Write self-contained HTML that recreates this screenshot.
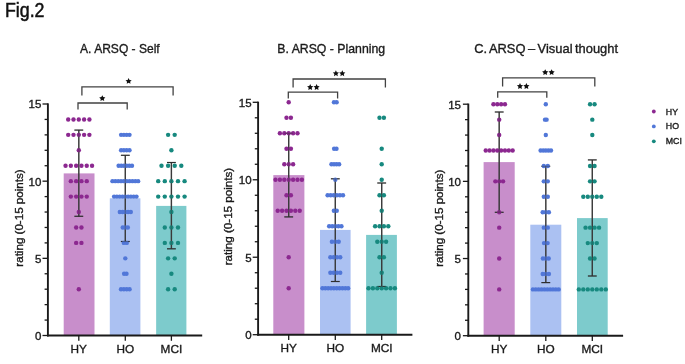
<!DOCTYPE html>
<html><head><meta charset="utf-8"><style>
html,body{margin:0;padding:0;background:#fff;}
body{width:685px;height:364px;overflow:hidden;}
svg{display:block;filter:blur(0.55px);font-family:"Liberation Sans", sans-serif;}
text{stroke:#1a1a1a;stroke-width:0.35px;paint-order:stroke;}
</style></head><body>
<svg width="685" height="364" viewBox="0 0 685 364">
<rect width="685" height="364" fill="#fff"/>
<text x="4.9" y="16.9" font-size="19.5" textLength="39.6" lengthAdjust="spacingAndGlyphs" fill="#111" style="stroke:#111;stroke-width:0.5px">Fig.2</text>
<g><text x="80.1" y="52.6" font-size="12.9" textLength="79.6" lengthAdjust="spacingAndGlyphs" fill="#1a1a1a" style="stroke-width:0.35px;">A. ARSQ - Self</text><rect x="63.7" y="173.4" width="30.8" height="162.1" fill="#c88ecb"/><rect x="109.8" y="198.3" width="30.6" height="137.2" fill="#abc1f2"/><rect x="156.15" y="205.9" width="30.25" height="129.6" fill="#7dcbcc"/><line x1="78.8" y1="130.1" x2="78.8" y2="216.3" stroke="#3a3a3a" stroke-width="1.35"/><line x1="74.4" y1="130.1" x2="83.2" y2="130.1" stroke="#2e2e2e" stroke-width="1.15"/><line x1="74.4" y1="216.3" x2="83.2" y2="216.3" stroke="#2e2e2e" stroke-width="1.15"/><line x1="125.3" y1="155.3" x2="125.3" y2="241.5" stroke="#3a3a3a" stroke-width="1.35"/><line x1="120.9" y1="155.3" x2="129.7" y2="155.3" stroke="#2e2e2e" stroke-width="1.15"/><line x1="120.9" y1="241.5" x2="129.7" y2="241.5" stroke="#2e2e2e" stroke-width="1.15"/><line x1="171.4" y1="162.5" x2="171.4" y2="248.8" stroke="#3a3a3a" stroke-width="1.35"/><line x1="167" y1="162.5" x2="175.8" y2="162.5" stroke="#2e2e2e" stroke-width="1.15"/><line x1="167" y1="248.8" x2="175.8" y2="248.8" stroke="#2e2e2e" stroke-width="1.15"/><circle cx="68.2" cy="119.43" r="2.2" fill="#8c2890"/><circle cx="73.5" cy="119.43" r="2.2" fill="#8c2890"/><circle cx="78.8" cy="119.43" r="2.2" fill="#8c2890"/><circle cx="84.1" cy="119.43" r="2.2" fill="#8c2890"/><circle cx="89.4" cy="119.43" r="2.2" fill="#8c2890"/><circle cx="68.2" cy="134.87" r="2.2" fill="#8c2890"/><circle cx="73.5" cy="134.87" r="2.2" fill="#8c2890"/><circle cx="78.8" cy="134.87" r="2.2" fill="#8c2890"/><circle cx="84.1" cy="134.87" r="2.2" fill="#8c2890"/><circle cx="89.4" cy="134.87" r="2.2" fill="#8c2890"/><circle cx="78.8" cy="150.3" r="2.2" fill="#8c2890"/><circle cx="65.55" cy="165.73" r="2.2" fill="#8c2890"/><circle cx="70.85" cy="165.73" r="2.2" fill="#8c2890"/><circle cx="76.15" cy="165.73" r="2.2" fill="#8c2890"/><circle cx="81.45" cy="165.73" r="2.2" fill="#8c2890"/><circle cx="86.75" cy="165.73" r="2.2" fill="#8c2890"/><circle cx="92.05" cy="165.73" r="2.2" fill="#8c2890"/><circle cx="70.85" cy="181.17" r="2.2" fill="#8c2890"/><circle cx="76.15" cy="181.17" r="2.2" fill="#8c2890"/><circle cx="81.45" cy="181.17" r="2.2" fill="#8c2890"/><circle cx="86.75" cy="181.17" r="2.2" fill="#8c2890"/><circle cx="70.85" cy="196.6" r="2.2" fill="#8c2890"/><circle cx="76.15" cy="196.6" r="2.2" fill="#8c2890"/><circle cx="81.45" cy="196.6" r="2.2" fill="#8c2890"/><circle cx="86.75" cy="196.6" r="2.2" fill="#8c2890"/><circle cx="78.8" cy="212.03" r="2.2" fill="#8c2890"/><circle cx="76.15" cy="227.47" r="2.2" fill="#8c2890"/><circle cx="81.45" cy="227.47" r="2.2" fill="#8c2890"/><circle cx="76.15" cy="242.9" r="2.2" fill="#8c2890"/><circle cx="81.45" cy="242.9" r="2.2" fill="#8c2890"/><circle cx="78.8" cy="289.2" r="2.2" fill="#8c2890"/><circle cx="121.1" cy="134.87" r="2.2" fill="#5177d8"/><circle cx="123.9" cy="134.87" r="2.2" fill="#5177d8"/><circle cx="126.7" cy="134.87" r="2.2" fill="#5177d8"/><circle cx="129.5" cy="134.87" r="2.2" fill="#5177d8"/><circle cx="121.1" cy="150.3" r="2.2" fill="#5177d8"/><circle cx="123.9" cy="150.3" r="2.2" fill="#5177d8"/><circle cx="126.7" cy="150.3" r="2.2" fill="#5177d8"/><circle cx="129.5" cy="150.3" r="2.2" fill="#5177d8"/><circle cx="118.6" cy="165.73" r="2.2" fill="#5177d8"/><circle cx="121.28" cy="165.73" r="2.2" fill="#5177d8"/><circle cx="123.96" cy="165.73" r="2.2" fill="#5177d8"/><circle cx="126.64" cy="165.73" r="2.2" fill="#5177d8"/><circle cx="129.32" cy="165.73" r="2.2" fill="#5177d8"/><circle cx="132" cy="165.73" r="2.2" fill="#5177d8"/><circle cx="112.45" cy="181.17" r="2.2" fill="#5177d8"/><circle cx="115.31" cy="181.17" r="2.2" fill="#5177d8"/><circle cx="118.16" cy="181.17" r="2.2" fill="#5177d8"/><circle cx="121.02" cy="181.17" r="2.2" fill="#5177d8"/><circle cx="123.87" cy="181.17" r="2.2" fill="#5177d8"/><circle cx="126.73" cy="181.17" r="2.2" fill="#5177d8"/><circle cx="129.58" cy="181.17" r="2.2" fill="#5177d8"/><circle cx="132.44" cy="181.17" r="2.2" fill="#5177d8"/><circle cx="135.29" cy="181.17" r="2.2" fill="#5177d8"/><circle cx="138.15" cy="181.17" r="2.2" fill="#5177d8"/><circle cx="114.1" cy="196.6" r="2.2" fill="#5177d8"/><circle cx="116.9" cy="196.6" r="2.2" fill="#5177d8"/><circle cx="119.7" cy="196.6" r="2.2" fill="#5177d8"/><circle cx="122.5" cy="196.6" r="2.2" fill="#5177d8"/><circle cx="125.3" cy="196.6" r="2.2" fill="#5177d8"/><circle cx="128.1" cy="196.6" r="2.2" fill="#5177d8"/><circle cx="130.9" cy="196.6" r="2.2" fill="#5177d8"/><circle cx="133.7" cy="196.6" r="2.2" fill="#5177d8"/><circle cx="136.5" cy="196.6" r="2.2" fill="#5177d8"/><circle cx="119.8" cy="212.03" r="2.2" fill="#5177d8"/><circle cx="122.55" cy="212.03" r="2.2" fill="#5177d8"/><circle cx="125.3" cy="212.03" r="2.2" fill="#5177d8"/><circle cx="128.05" cy="212.03" r="2.2" fill="#5177d8"/><circle cx="130.8" cy="212.03" r="2.2" fill="#5177d8"/><circle cx="122.75" cy="227.47" r="2.2" fill="#5177d8"/><circle cx="125.3" cy="227.47" r="2.2" fill="#5177d8"/><circle cx="127.85" cy="227.47" r="2.2" fill="#5177d8"/><circle cx="123.85" cy="242.9" r="2.2" fill="#5177d8"/><circle cx="126.75" cy="242.9" r="2.2" fill="#5177d8"/><circle cx="125.3" cy="258.33" r="2.2" fill="#5177d8"/><circle cx="124.1" cy="273.77" r="2.2" fill="#5177d8"/><circle cx="126.5" cy="273.77" r="2.2" fill="#5177d8"/><circle cx="121" cy="289.2" r="2.2" fill="#5177d8"/><circle cx="123.87" cy="289.2" r="2.2" fill="#5177d8"/><circle cx="126.73" cy="289.2" r="2.2" fill="#5177d8"/><circle cx="129.6" cy="289.2" r="2.2" fill="#5177d8"/><circle cx="168.1" cy="134.87" r="2.2" fill="#17897f"/><circle cx="174.7" cy="134.87" r="2.2" fill="#17897f"/><circle cx="171.4" cy="150.3" r="2.2" fill="#17897f"/><circle cx="161.5" cy="165.73" r="2.2" fill="#17897f"/><circle cx="168.1" cy="165.73" r="2.2" fill="#17897f"/><circle cx="174.7" cy="165.73" r="2.2" fill="#17897f"/><circle cx="181.3" cy="165.73" r="2.2" fill="#17897f"/><circle cx="158.2" cy="181.17" r="2.2" fill="#17897f"/><circle cx="164.8" cy="181.17" r="2.2" fill="#17897f"/><circle cx="171.4" cy="181.17" r="2.2" fill="#17897f"/><circle cx="178" cy="181.17" r="2.2" fill="#17897f"/><circle cx="184.6" cy="181.17" r="2.2" fill="#17897f"/><circle cx="158.2" cy="196.6" r="2.2" fill="#17897f"/><circle cx="164.8" cy="196.6" r="2.2" fill="#17897f"/><circle cx="171.4" cy="196.6" r="2.2" fill="#17897f"/><circle cx="178" cy="196.6" r="2.2" fill="#17897f"/><circle cx="184.6" cy="196.6" r="2.2" fill="#17897f"/><circle cx="171.4" cy="212.03" r="2.2" fill="#17897f"/><circle cx="164.8" cy="227.47" r="2.2" fill="#17897f"/><circle cx="171.4" cy="227.47" r="2.2" fill="#17897f"/><circle cx="178" cy="227.47" r="2.2" fill="#17897f"/><circle cx="164.8" cy="242.9" r="2.2" fill="#17897f"/><circle cx="171.4" cy="242.9" r="2.2" fill="#17897f"/><circle cx="178" cy="242.9" r="2.2" fill="#17897f"/><circle cx="168.1" cy="258.33" r="2.2" fill="#17897f"/><circle cx="174.7" cy="258.33" r="2.2" fill="#17897f"/><circle cx="171.4" cy="273.77" r="2.2" fill="#17897f"/><circle cx="168.1" cy="289.2" r="2.2" fill="#17897f"/><circle cx="174.7" cy="289.2" r="2.2" fill="#17897f"/><line x1="78.8" y1="130.1" x2="78.8" y2="216.3" stroke="#3a3a3a" stroke-width="1.35" opacity="0.35"/><line x1="74.4" y1="130.1" x2="83.2" y2="130.1" stroke="#2e2e2e" stroke-width="1.15" opacity="0.35"/><line x1="74.4" y1="216.3" x2="83.2" y2="216.3" stroke="#2e2e2e" stroke-width="1.15" opacity="0.35"/><line x1="125.3" y1="155.3" x2="125.3" y2="241.5" stroke="#3a3a3a" stroke-width="1.35" opacity="0.35"/><line x1="120.9" y1="155.3" x2="129.7" y2="155.3" stroke="#2e2e2e" stroke-width="1.15" opacity="0.35"/><line x1="120.9" y1="241.5" x2="129.7" y2="241.5" stroke="#2e2e2e" stroke-width="1.15" opacity="0.35"/><line x1="171.4" y1="162.5" x2="171.4" y2="248.8" stroke="#3a3a3a" stroke-width="1.35" opacity="0.35"/><line x1="167" y1="162.5" x2="175.8" y2="162.5" stroke="#2e2e2e" stroke-width="1.15" opacity="0.35"/><line x1="167" y1="248.8" x2="175.8" y2="248.8" stroke="#2e2e2e" stroke-width="1.15" opacity="0.35"/><line x1="47.9" y1="103.35" x2="47.9" y2="336.45" stroke="#1a1a1a" stroke-width="1.9"/><line x1="46.95" y1="335.5" x2="202.2" y2="335.5" stroke="#1a1a1a" stroke-width="1.9"/><line x1="42.5" y1="335.5" x2="47.9" y2="335.5" stroke="#1a1a1a" stroke-width="1.3"/><text x="41.4" y="339.9" font-size="11.5" text-anchor="end" fill="#1a1a1a">0</text><line x1="44.6" y1="320.07" x2="47.9" y2="320.07" stroke="#1a1a1a" stroke-width="1.3"/><line x1="44.6" y1="304.63" x2="47.9" y2="304.63" stroke="#1a1a1a" stroke-width="1.3"/><line x1="44.6" y1="289.2" x2="47.9" y2="289.2" stroke="#1a1a1a" stroke-width="1.3"/><line x1="44.6" y1="273.77" x2="47.9" y2="273.77" stroke="#1a1a1a" stroke-width="1.3"/><line x1="42.5" y1="258.33" x2="47.9" y2="258.33" stroke="#1a1a1a" stroke-width="1.3"/><text x="41.4" y="262.73" font-size="11.5" text-anchor="end" fill="#1a1a1a">5</text><line x1="44.6" y1="242.9" x2="47.9" y2="242.9" stroke="#1a1a1a" stroke-width="1.3"/><line x1="44.6" y1="227.47" x2="47.9" y2="227.47" stroke="#1a1a1a" stroke-width="1.3"/><line x1="44.6" y1="212.03" x2="47.9" y2="212.03" stroke="#1a1a1a" stroke-width="1.3"/><line x1="44.6" y1="196.6" x2="47.9" y2="196.6" stroke="#1a1a1a" stroke-width="1.3"/><line x1="42.5" y1="181.17" x2="47.9" y2="181.17" stroke="#1a1a1a" stroke-width="1.3"/><text x="41.4" y="185.57" font-size="11.5" text-anchor="end" fill="#1a1a1a">10</text><line x1="44.6" y1="165.73" x2="47.9" y2="165.73" stroke="#1a1a1a" stroke-width="1.3"/><line x1="44.6" y1="150.3" x2="47.9" y2="150.3" stroke="#1a1a1a" stroke-width="1.3"/><line x1="44.6" y1="134.87" x2="47.9" y2="134.87" stroke="#1a1a1a" stroke-width="1.3"/><line x1="44.6" y1="119.43" x2="47.9" y2="119.43" stroke="#1a1a1a" stroke-width="1.3"/><line x1="42.5" y1="104" x2="47.9" y2="104" stroke="#1a1a1a" stroke-width="1.3"/><text x="41.4" y="108.4" font-size="11.5" text-anchor="end" fill="#1a1a1a">15</text><line x1="78.8" y1="335.5" x2="78.8" y2="340.8" stroke="#1a1a1a" stroke-width="1.3"/><text x="78.8" y="353" font-size="11.8" text-anchor="middle" fill="#1a1a1a">HY</text><line x1="125.3" y1="335.5" x2="125.3" y2="340.8" stroke="#1a1a1a" stroke-width="1.3"/><text x="125.3" y="353" font-size="11.8" text-anchor="middle" fill="#1a1a1a">HO</text><line x1="171.4" y1="335.5" x2="171.4" y2="340.8" stroke="#1a1a1a" stroke-width="1.3"/><text x="171.4" y="353" font-size="11.8" text-anchor="middle" fill="#1a1a1a">MCI</text><text transform="translate(22.8,218) rotate(-90)" x="0" y="0" font-size="11.6" text-anchor="middle" fill="#1a1a1a">rating (0-15 points)</text><path d="M81.9 95.6V86.8H173.1V95.6" fill="none" stroke="#424242" stroke-width="1.3"/><polygon points="128.60,77.95 129.54,79.91 131.69,80.20 130.12,81.69 130.51,83.83 128.60,82.80 126.69,83.83 127.08,81.69 125.51,80.20 127.66,79.91" fill="#111"/><path d="M78 109.4V103H127.2V109.4" fill="none" stroke="#424242" stroke-width="1.3"/><polygon points="102.30,95.15 103.24,97.11 105.39,97.40 103.82,98.89 104.21,101.03 102.30,100.00 100.39,101.03 100.78,98.89 99.21,97.40 101.36,97.11" fill="#111"/></g>
<g><text x="277.3" y="53" font-size="12.9" textLength="107.8" lengthAdjust="spacingAndGlyphs" fill="#1a1a1a" style="stroke-width:0.35px;">B. ARSQ - Planning</text><rect x="273.3" y="175.1" width="31.1" height="159.6" fill="#c88ecb"/><rect x="320" y="229.9" width="30.6" height="104.8" fill="#abc1f2"/><rect x="366.1" y="234.9" width="30.8" height="99.8" fill="#7dcbcc"/><line x1="288.7" y1="133.3" x2="288.7" y2="216.9" stroke="#3a3a3a" stroke-width="1.35"/><line x1="284.3" y1="133.3" x2="293.1" y2="133.3" stroke="#2e2e2e" stroke-width="1.15"/><line x1="284.3" y1="216.9" x2="293.1" y2="216.9" stroke="#2e2e2e" stroke-width="1.15"/><line x1="335.3" y1="178.8" x2="335.3" y2="281.5" stroke="#3a3a3a" stroke-width="1.35"/><line x1="330.9" y1="178.8" x2="339.7" y2="178.8" stroke="#2e2e2e" stroke-width="1.15"/><line x1="330.9" y1="281.5" x2="339.7" y2="281.5" stroke="#2e2e2e" stroke-width="1.15"/><line x1="381.7" y1="183" x2="381.7" y2="286.5" stroke="#3a3a3a" stroke-width="1.35"/><line x1="377.3" y1="183" x2="386.1" y2="183" stroke="#2e2e2e" stroke-width="1.15"/><line x1="377.3" y1="286.5" x2="386.1" y2="286.5" stroke="#2e2e2e" stroke-width="1.15"/><circle cx="288.7" cy="102.3" r="2.2" fill="#8c2890"/><circle cx="286.5" cy="117.79" r="2.2" fill="#8c2890"/><circle cx="290.9" cy="117.79" r="2.2" fill="#8c2890"/><circle cx="279.9" cy="133.29" r="2.2" fill="#8c2890"/><circle cx="284.3" cy="133.29" r="2.2" fill="#8c2890"/><circle cx="288.7" cy="133.29" r="2.2" fill="#8c2890"/><circle cx="293.1" cy="133.29" r="2.2" fill="#8c2890"/><circle cx="297.5" cy="133.29" r="2.2" fill="#8c2890"/><circle cx="286.5" cy="148.78" r="2.2" fill="#8c2890"/><circle cx="290.9" cy="148.78" r="2.2" fill="#8c2890"/><circle cx="284.3" cy="164.27" r="2.2" fill="#8c2890"/><circle cx="288.7" cy="164.27" r="2.2" fill="#8c2890"/><circle cx="293.1" cy="164.27" r="2.2" fill="#8c2890"/><circle cx="275.5" cy="179.77" r="2.2" fill="#8c2890"/><circle cx="279.9" cy="179.77" r="2.2" fill="#8c2890"/><circle cx="284.3" cy="179.77" r="2.2" fill="#8c2890"/><circle cx="288.7" cy="179.77" r="2.2" fill="#8c2890"/><circle cx="293.1" cy="179.77" r="2.2" fill="#8c2890"/><circle cx="297.5" cy="179.77" r="2.2" fill="#8c2890"/><circle cx="301.9" cy="179.77" r="2.2" fill="#8c2890"/><circle cx="286.5" cy="195.26" r="2.2" fill="#8c2890"/><circle cx="290.9" cy="195.26" r="2.2" fill="#8c2890"/><circle cx="277.7" cy="210.75" r="2.2" fill="#8c2890"/><circle cx="282.1" cy="210.75" r="2.2" fill="#8c2890"/><circle cx="286.5" cy="210.75" r="2.2" fill="#8c2890"/><circle cx="290.9" cy="210.75" r="2.2" fill="#8c2890"/><circle cx="295.3" cy="210.75" r="2.2" fill="#8c2890"/><circle cx="299.7" cy="210.75" r="2.2" fill="#8c2890"/><circle cx="288.7" cy="257.23" r="2.2" fill="#8c2890"/><circle cx="288.7" cy="288.22" r="2.2" fill="#8c2890"/><circle cx="333.95" cy="102.3" r="2.2" fill="#5177d8"/><circle cx="336.65" cy="102.3" r="2.2" fill="#5177d8"/><circle cx="334.1" cy="148.78" r="2.2" fill="#5177d8"/><circle cx="336.5" cy="148.78" r="2.2" fill="#5177d8"/><circle cx="331.45" cy="164.27" r="2.2" fill="#5177d8"/><circle cx="334.02" cy="164.27" r="2.2" fill="#5177d8"/><circle cx="336.58" cy="164.27" r="2.2" fill="#5177d8"/><circle cx="339.15" cy="164.27" r="2.2" fill="#5177d8"/><circle cx="335.3" cy="179.77" r="2.2" fill="#5177d8"/><circle cx="327.6" cy="195.26" r="2.2" fill="#5177d8"/><circle cx="330.68" cy="195.26" r="2.2" fill="#5177d8"/><circle cx="333.76" cy="195.26" r="2.2" fill="#5177d8"/><circle cx="336.84" cy="195.26" r="2.2" fill="#5177d8"/><circle cx="339.92" cy="195.26" r="2.2" fill="#5177d8"/><circle cx="343" cy="195.26" r="2.2" fill="#5177d8"/><circle cx="333.85" cy="210.75" r="2.2" fill="#5177d8"/><circle cx="336.75" cy="210.75" r="2.2" fill="#5177d8"/><circle cx="329.15" cy="226.25" r="2.2" fill="#5177d8"/><circle cx="332.23" cy="226.25" r="2.2" fill="#5177d8"/><circle cx="335.3" cy="226.25" r="2.2" fill="#5177d8"/><circle cx="338.38" cy="226.25" r="2.2" fill="#5177d8"/><circle cx="341.45" cy="226.25" r="2.2" fill="#5177d8"/><circle cx="331.9" cy="241.74" r="2.2" fill="#5177d8"/><circle cx="335.3" cy="241.74" r="2.2" fill="#5177d8"/><circle cx="338.7" cy="241.74" r="2.2" fill="#5177d8"/><circle cx="330.35" cy="257.23" r="2.2" fill="#5177d8"/><circle cx="333.65" cy="257.23" r="2.2" fill="#5177d8"/><circle cx="336.95" cy="257.23" r="2.2" fill="#5177d8"/><circle cx="340.25" cy="257.23" r="2.2" fill="#5177d8"/><circle cx="330.35" cy="272.73" r="2.2" fill="#5177d8"/><circle cx="333.65" cy="272.73" r="2.2" fill="#5177d8"/><circle cx="336.95" cy="272.73" r="2.2" fill="#5177d8"/><circle cx="340.25" cy="272.73" r="2.2" fill="#5177d8"/><circle cx="322.45" cy="288.22" r="2.2" fill="#5177d8"/><circle cx="325.31" cy="288.22" r="2.2" fill="#5177d8"/><circle cx="328.16" cy="288.22" r="2.2" fill="#5177d8"/><circle cx="331.02" cy="288.22" r="2.2" fill="#5177d8"/><circle cx="333.87" cy="288.22" r="2.2" fill="#5177d8"/><circle cx="336.73" cy="288.22" r="2.2" fill="#5177d8"/><circle cx="339.58" cy="288.22" r="2.2" fill="#5177d8"/><circle cx="342.44" cy="288.22" r="2.2" fill="#5177d8"/><circle cx="345.29" cy="288.22" r="2.2" fill="#5177d8"/><circle cx="348.15" cy="288.22" r="2.2" fill="#5177d8"/><circle cx="379.5" cy="117.79" r="2.2" fill="#17897f"/><circle cx="383.9" cy="117.79" r="2.2" fill="#17897f"/><circle cx="381.7" cy="148.78" r="2.2" fill="#17897f"/><circle cx="381.7" cy="164.27" r="2.2" fill="#17897f"/><circle cx="381.7" cy="179.77" r="2.2" fill="#17897f"/><circle cx="379.5" cy="195.26" r="2.2" fill="#17897f"/><circle cx="383.9" cy="195.26" r="2.2" fill="#17897f"/><circle cx="381.7" cy="210.75" r="2.2" fill="#17897f"/><circle cx="375.1" cy="226.25" r="2.2" fill="#17897f"/><circle cx="379.5" cy="226.25" r="2.2" fill="#17897f"/><circle cx="383.9" cy="226.25" r="2.2" fill="#17897f"/><circle cx="388.3" cy="226.25" r="2.2" fill="#17897f"/><circle cx="377.3" cy="241.74" r="2.2" fill="#17897f"/><circle cx="381.7" cy="241.74" r="2.2" fill="#17897f"/><circle cx="386.1" cy="241.74" r="2.2" fill="#17897f"/><circle cx="379.5" cy="257.23" r="2.2" fill="#17897f"/><circle cx="383.9" cy="257.23" r="2.2" fill="#17897f"/><circle cx="381.7" cy="272.73" r="2.2" fill="#17897f"/><circle cx="368.5" cy="288.22" r="2.2" fill="#17897f"/><circle cx="372.9" cy="288.22" r="2.2" fill="#17897f"/><circle cx="377.3" cy="288.22" r="2.2" fill="#17897f"/><circle cx="381.7" cy="288.22" r="2.2" fill="#17897f"/><circle cx="386.1" cy="288.22" r="2.2" fill="#17897f"/><circle cx="390.5" cy="288.22" r="2.2" fill="#17897f"/><circle cx="394.9" cy="288.22" r="2.2" fill="#17897f"/><line x1="288.7" y1="133.3" x2="288.7" y2="216.9" stroke="#3a3a3a" stroke-width="1.35" opacity="0.35"/><line x1="284.3" y1="133.3" x2="293.1" y2="133.3" stroke="#2e2e2e" stroke-width="1.15" opacity="0.35"/><line x1="284.3" y1="216.9" x2="293.1" y2="216.9" stroke="#2e2e2e" stroke-width="1.15" opacity="0.35"/><line x1="335.3" y1="178.8" x2="335.3" y2="281.5" stroke="#3a3a3a" stroke-width="1.35" opacity="0.35"/><line x1="330.9" y1="178.8" x2="339.7" y2="178.8" stroke="#2e2e2e" stroke-width="1.15" opacity="0.35"/><line x1="330.9" y1="281.5" x2="339.7" y2="281.5" stroke="#2e2e2e" stroke-width="1.15" opacity="0.35"/><line x1="381.7" y1="183" x2="381.7" y2="286.5" stroke="#3a3a3a" stroke-width="1.35" opacity="0.35"/><line x1="377.3" y1="183" x2="386.1" y2="183" stroke="#2e2e2e" stroke-width="1.15" opacity="0.35"/><line x1="377.3" y1="286.5" x2="386.1" y2="286.5" stroke="#2e2e2e" stroke-width="1.15" opacity="0.35"/><line x1="258.1" y1="101.65" x2="258.1" y2="335.65" stroke="#1a1a1a" stroke-width="1.9"/><line x1="257.15" y1="334.7" x2="412.4" y2="334.7" stroke="#1a1a1a" stroke-width="1.9"/><line x1="252.7" y1="334.7" x2="258.1" y2="334.7" stroke="#1a1a1a" stroke-width="1.3"/><text x="251.6" y="339.1" font-size="11.5" text-anchor="end" fill="#1a1a1a">0</text><line x1="254.8" y1="319.21" x2="258.1" y2="319.21" stroke="#1a1a1a" stroke-width="1.3"/><line x1="254.8" y1="303.71" x2="258.1" y2="303.71" stroke="#1a1a1a" stroke-width="1.3"/><line x1="254.8" y1="288.22" x2="258.1" y2="288.22" stroke="#1a1a1a" stroke-width="1.3"/><line x1="254.8" y1="272.73" x2="258.1" y2="272.73" stroke="#1a1a1a" stroke-width="1.3"/><line x1="252.7" y1="257.23" x2="258.1" y2="257.23" stroke="#1a1a1a" stroke-width="1.3"/><text x="251.6" y="261.63" font-size="11.5" text-anchor="end" fill="#1a1a1a">5</text><line x1="254.8" y1="241.74" x2="258.1" y2="241.74" stroke="#1a1a1a" stroke-width="1.3"/><line x1="254.8" y1="226.25" x2="258.1" y2="226.25" stroke="#1a1a1a" stroke-width="1.3"/><line x1="254.8" y1="210.75" x2="258.1" y2="210.75" stroke="#1a1a1a" stroke-width="1.3"/><line x1="254.8" y1="195.26" x2="258.1" y2="195.26" stroke="#1a1a1a" stroke-width="1.3"/><line x1="252.7" y1="179.77" x2="258.1" y2="179.77" stroke="#1a1a1a" stroke-width="1.3"/><text x="251.6" y="184.17" font-size="11.5" text-anchor="end" fill="#1a1a1a">10</text><line x1="254.8" y1="164.27" x2="258.1" y2="164.27" stroke="#1a1a1a" stroke-width="1.3"/><line x1="254.8" y1="148.78" x2="258.1" y2="148.78" stroke="#1a1a1a" stroke-width="1.3"/><line x1="254.8" y1="133.29" x2="258.1" y2="133.29" stroke="#1a1a1a" stroke-width="1.3"/><line x1="254.8" y1="117.79" x2="258.1" y2="117.79" stroke="#1a1a1a" stroke-width="1.3"/><line x1="252.7" y1="102.3" x2="258.1" y2="102.3" stroke="#1a1a1a" stroke-width="1.3"/><text x="251.6" y="106.7" font-size="11.5" text-anchor="end" fill="#1a1a1a">15</text><line x1="288.7" y1="334.7" x2="288.7" y2="340" stroke="#1a1a1a" stroke-width="1.3"/><text x="288.7" y="352.2" font-size="11.8" text-anchor="middle" fill="#1a1a1a">HY</text><line x1="335.3" y1="334.7" x2="335.3" y2="340" stroke="#1a1a1a" stroke-width="1.3"/><text x="335.3" y="352.2" font-size="11.8" text-anchor="middle" fill="#1a1a1a">HO</text><line x1="381.7" y1="334.7" x2="381.7" y2="340" stroke="#1a1a1a" stroke-width="1.3"/><text x="381.7" y="352.2" font-size="11.8" text-anchor="middle" fill="#1a1a1a">MCI</text><text transform="translate(232.1,216.6) rotate(-90)" x="0" y="0" font-size="11.6" text-anchor="middle" fill="#1a1a1a">rating (0-15 points)</text><path d="M293.1 87.6V79H385.4V87.6" fill="none" stroke="#424242" stroke-width="1.3"/><polygon points="335.90,70.25 336.84,72.21 338.99,72.50 337.42,73.99 337.81,76.13 335.90,75.10 333.99,76.13 334.38,73.99 332.81,72.50 334.96,72.21" fill="#111"/><polygon points="342.30,70.25 343.24,72.21 345.39,72.50 343.82,73.99 344.21,76.13 342.30,75.10 340.39,76.13 340.78,73.99 339.21,72.50 341.36,72.21" fill="#111"/><path d="M288.3 98.5V92.1H337.6V98.5" fill="none" stroke="#424242" stroke-width="1.3"/><polygon points="310.20,84.05 311.14,86.01 313.29,86.30 311.72,87.79 312.11,89.93 310.20,88.90 308.29,89.93 308.68,87.79 307.11,86.30 309.26,86.01" fill="#111"/><polygon points="316.60,84.05 317.54,86.01 319.69,86.30 318.12,87.79 318.51,89.93 316.60,88.90 314.69,89.93 315.08,87.79 313.51,86.30 315.66,86.01" fill="#111"/></g>
<g><text x="474.3" y="53.2" font-size="12.9" textLength="143.7" lengthAdjust="spacingAndGlyphs" fill="#1a1a1a" style="stroke-width:0.35px;word-spacing:-1.1px;">C. ARSQ – Visual thought</text><rect x="483.6" y="162.1" width="31.1" height="173.6" fill="#c88ecb"/><rect x="530.3" y="224.7" width="31" height="111" fill="#abc1f2"/><rect x="577" y="218.1" width="30.7" height="117.6" fill="#7dcbcc"/><line x1="499.2" y1="112" x2="499.2" y2="212.3" stroke="#3a3a3a" stroke-width="1.35"/><line x1="494.8" y1="112" x2="503.6" y2="112" stroke="#2e2e2e" stroke-width="1.15"/><line x1="494.8" y1="212.3" x2="503.6" y2="212.3" stroke="#2e2e2e" stroke-width="1.15"/><line x1="545.8" y1="166.3" x2="545.8" y2="282.6" stroke="#3a3a3a" stroke-width="1.35"/><line x1="541.4" y1="166.3" x2="550.2" y2="166.3" stroke="#2e2e2e" stroke-width="1.15"/><line x1="541.4" y1="282.6" x2="550.2" y2="282.6" stroke="#2e2e2e" stroke-width="1.15"/><line x1="592.3" y1="159.9" x2="592.3" y2="276" stroke="#3a3a3a" stroke-width="1.35"/><line x1="587.9" y1="159.9" x2="596.7" y2="159.9" stroke="#2e2e2e" stroke-width="1.15"/><line x1="587.9" y1="276" x2="596.7" y2="276" stroke="#2e2e2e" stroke-width="1.15"/><circle cx="493.43" cy="104.2" r="2.2" fill="#8c2890"/><circle cx="497.27" cy="104.2" r="2.2" fill="#8c2890"/><circle cx="501.12" cy="104.2" r="2.2" fill="#8c2890"/><circle cx="504.97" cy="104.2" r="2.2" fill="#8c2890"/><circle cx="499.2" cy="119.63" r="2.2" fill="#8c2890"/><circle cx="499.2" cy="135.07" r="2.2" fill="#8c2890"/><circle cx="485.72" cy="150.5" r="2.2" fill="#8c2890"/><circle cx="489.57" cy="150.5" r="2.2" fill="#8c2890"/><circle cx="493.43" cy="150.5" r="2.2" fill="#8c2890"/><circle cx="497.27" cy="150.5" r="2.2" fill="#8c2890"/><circle cx="501.12" cy="150.5" r="2.2" fill="#8c2890"/><circle cx="504.97" cy="150.5" r="2.2" fill="#8c2890"/><circle cx="508.82" cy="150.5" r="2.2" fill="#8c2890"/><circle cx="512.67" cy="150.5" r="2.2" fill="#8c2890"/><circle cx="495.35" cy="181.37" r="2.2" fill="#8c2890"/><circle cx="499.2" cy="181.37" r="2.2" fill="#8c2890"/><circle cx="503.05" cy="181.37" r="2.2" fill="#8c2890"/><circle cx="499.2" cy="212.23" r="2.2" fill="#8c2890"/><circle cx="499.2" cy="227.67" r="2.2" fill="#8c2890"/><circle cx="499.2" cy="258.53" r="2.2" fill="#8c2890"/><circle cx="499.2" cy="289.4" r="2.2" fill="#8c2890"/><circle cx="545.8" cy="104.2" r="2.2" fill="#5177d8"/><circle cx="545" cy="119.63" r="2.2" fill="#5177d8"/><circle cx="546.6" cy="119.63" r="2.2" fill="#5177d8"/><circle cx="545.8" cy="135.07" r="2.2" fill="#5177d8"/><circle cx="540.6" cy="150.5" r="2.2" fill="#5177d8"/><circle cx="543.2" cy="150.5" r="2.2" fill="#5177d8"/><circle cx="545.8" cy="150.5" r="2.2" fill="#5177d8"/><circle cx="548.4" cy="150.5" r="2.2" fill="#5177d8"/><circle cx="551" cy="150.5" r="2.2" fill="#5177d8"/><circle cx="543.8" cy="165.93" r="2.2" fill="#5177d8"/><circle cx="547.8" cy="165.93" r="2.2" fill="#5177d8"/><circle cx="543.8" cy="181.37" r="2.2" fill="#5177d8"/><circle cx="547.8" cy="181.37" r="2.2" fill="#5177d8"/><circle cx="543.8" cy="196.8" r="2.2" fill="#5177d8"/><circle cx="547.8" cy="196.8" r="2.2" fill="#5177d8"/><circle cx="542.7" cy="212.23" r="2.2" fill="#5177d8"/><circle cx="545.8" cy="212.23" r="2.2" fill="#5177d8"/><circle cx="548.9" cy="212.23" r="2.2" fill="#5177d8"/><circle cx="543.8" cy="227.67" r="2.2" fill="#5177d8"/><circle cx="547.8" cy="227.67" r="2.2" fill="#5177d8"/><circle cx="544" cy="243.1" r="2.2" fill="#5177d8"/><circle cx="547.6" cy="243.1" r="2.2" fill="#5177d8"/><circle cx="542.9" cy="258.53" r="2.2" fill="#5177d8"/><circle cx="545.8" cy="258.53" r="2.2" fill="#5177d8"/><circle cx="548.7" cy="258.53" r="2.2" fill="#5177d8"/><circle cx="542.7" cy="273.97" r="2.2" fill="#5177d8"/><circle cx="545.8" cy="273.97" r="2.2" fill="#5177d8"/><circle cx="548.9" cy="273.97" r="2.2" fill="#5177d8"/><circle cx="532.9" cy="289.4" r="2.2" fill="#5177d8"/><circle cx="535.77" cy="289.4" r="2.2" fill="#5177d8"/><circle cx="538.63" cy="289.4" r="2.2" fill="#5177d8"/><circle cx="541.5" cy="289.4" r="2.2" fill="#5177d8"/><circle cx="544.37" cy="289.4" r="2.2" fill="#5177d8"/><circle cx="547.23" cy="289.4" r="2.2" fill="#5177d8"/><circle cx="550.1" cy="289.4" r="2.2" fill="#5177d8"/><circle cx="552.97" cy="289.4" r="2.2" fill="#5177d8"/><circle cx="555.83" cy="289.4" r="2.2" fill="#5177d8"/><circle cx="558.7" cy="289.4" r="2.2" fill="#5177d8"/><circle cx="590.05" cy="104.2" r="2.2" fill="#17897f"/><circle cx="594.55" cy="104.2" r="2.2" fill="#17897f"/><circle cx="592.3" cy="119.63" r="2.2" fill="#17897f"/><circle cx="592.3" cy="135.07" r="2.2" fill="#17897f"/><circle cx="590.05" cy="165.93" r="2.2" fill="#17897f"/><circle cx="594.55" cy="165.93" r="2.2" fill="#17897f"/><circle cx="590.05" cy="181.37" r="2.2" fill="#17897f"/><circle cx="594.55" cy="181.37" r="2.2" fill="#17897f"/><circle cx="583.3" cy="196.8" r="2.2" fill="#17897f"/><circle cx="587.8" cy="196.8" r="2.2" fill="#17897f"/><circle cx="592.3" cy="196.8" r="2.2" fill="#17897f"/><circle cx="596.8" cy="196.8" r="2.2" fill="#17897f"/><circle cx="601.3" cy="196.8" r="2.2" fill="#17897f"/><circle cx="585.55" cy="227.67" r="2.2" fill="#17897f"/><circle cx="590.05" cy="227.67" r="2.2" fill="#17897f"/><circle cx="594.55" cy="227.67" r="2.2" fill="#17897f"/><circle cx="599.05" cy="227.67" r="2.2" fill="#17897f"/><circle cx="587.8" cy="243.1" r="2.2" fill="#17897f"/><circle cx="592.3" cy="243.1" r="2.2" fill="#17897f"/><circle cx="596.8" cy="243.1" r="2.2" fill="#17897f"/><circle cx="590.05" cy="258.53" r="2.2" fill="#17897f"/><circle cx="594.55" cy="258.53" r="2.2" fill="#17897f"/><circle cx="578.8" cy="289.4" r="2.2" fill="#17897f"/><circle cx="583.3" cy="289.4" r="2.2" fill="#17897f"/><circle cx="587.8" cy="289.4" r="2.2" fill="#17897f"/><circle cx="592.3" cy="289.4" r="2.2" fill="#17897f"/><circle cx="596.8" cy="289.4" r="2.2" fill="#17897f"/><circle cx="601.3" cy="289.4" r="2.2" fill="#17897f"/><circle cx="605.8" cy="289.4" r="2.2" fill="#17897f"/><line x1="499.2" y1="112" x2="499.2" y2="212.3" stroke="#3a3a3a" stroke-width="1.35" opacity="0.35"/><line x1="494.8" y1="112" x2="503.6" y2="112" stroke="#2e2e2e" stroke-width="1.15" opacity="0.35"/><line x1="494.8" y1="212.3" x2="503.6" y2="212.3" stroke="#2e2e2e" stroke-width="1.15" opacity="0.35"/><line x1="545.8" y1="166.3" x2="545.8" y2="282.6" stroke="#3a3a3a" stroke-width="1.35" opacity="0.35"/><line x1="541.4" y1="166.3" x2="550.2" y2="166.3" stroke="#2e2e2e" stroke-width="1.15" opacity="0.35"/><line x1="541.4" y1="282.6" x2="550.2" y2="282.6" stroke="#2e2e2e" stroke-width="1.15" opacity="0.35"/><line x1="592.3" y1="159.9" x2="592.3" y2="276" stroke="#3a3a3a" stroke-width="1.35" opacity="0.35"/><line x1="587.9" y1="159.9" x2="596.7" y2="159.9" stroke="#2e2e2e" stroke-width="1.15" opacity="0.35"/><line x1="587.9" y1="276" x2="596.7" y2="276" stroke="#2e2e2e" stroke-width="1.15" opacity="0.35"/><line x1="468.3" y1="103.55" x2="468.3" y2="336.65" stroke="#1a1a1a" stroke-width="1.9"/><line x1="467.35" y1="335.7" x2="623.1" y2="335.7" stroke="#1a1a1a" stroke-width="1.9"/><line x1="462.9" y1="335.7" x2="468.3" y2="335.7" stroke="#1a1a1a" stroke-width="1.3"/><text x="461" y="340.1" font-size="11.5" text-anchor="end" fill="#1a1a1a">0</text><line x1="465" y1="320.27" x2="468.3" y2="320.27" stroke="#1a1a1a" stroke-width="1.3"/><line x1="465" y1="304.83" x2="468.3" y2="304.83" stroke="#1a1a1a" stroke-width="1.3"/><line x1="465" y1="289.4" x2="468.3" y2="289.4" stroke="#1a1a1a" stroke-width="1.3"/><line x1="465" y1="273.97" x2="468.3" y2="273.97" stroke="#1a1a1a" stroke-width="1.3"/><line x1="462.9" y1="258.53" x2="468.3" y2="258.53" stroke="#1a1a1a" stroke-width="1.3"/><text x="461" y="262.93" font-size="11.5" text-anchor="end" fill="#1a1a1a">5</text><line x1="465" y1="243.1" x2="468.3" y2="243.1" stroke="#1a1a1a" stroke-width="1.3"/><line x1="465" y1="227.67" x2="468.3" y2="227.67" stroke="#1a1a1a" stroke-width="1.3"/><line x1="465" y1="212.23" x2="468.3" y2="212.23" stroke="#1a1a1a" stroke-width="1.3"/><line x1="465" y1="196.8" x2="468.3" y2="196.8" stroke="#1a1a1a" stroke-width="1.3"/><line x1="462.9" y1="181.37" x2="468.3" y2="181.37" stroke="#1a1a1a" stroke-width="1.3"/><text x="461" y="185.77" font-size="11.5" text-anchor="end" fill="#1a1a1a">10</text><line x1="465" y1="165.93" x2="468.3" y2="165.93" stroke="#1a1a1a" stroke-width="1.3"/><line x1="465" y1="150.5" x2="468.3" y2="150.5" stroke="#1a1a1a" stroke-width="1.3"/><line x1="465" y1="135.07" x2="468.3" y2="135.07" stroke="#1a1a1a" stroke-width="1.3"/><line x1="465" y1="119.63" x2="468.3" y2="119.63" stroke="#1a1a1a" stroke-width="1.3"/><line x1="462.9" y1="104.2" x2="468.3" y2="104.2" stroke="#1a1a1a" stroke-width="1.3"/><text x="461" y="108.6" font-size="11.5" text-anchor="end" fill="#1a1a1a">15</text><line x1="499.2" y1="335.7" x2="499.2" y2="341" stroke="#1a1a1a" stroke-width="1.3"/><text x="499.2" y="353.2" font-size="11.8" text-anchor="middle" fill="#1a1a1a">HY</text><line x1="545.8" y1="335.7" x2="545.8" y2="341" stroke="#1a1a1a" stroke-width="1.3"/><text x="545.8" y="353.2" font-size="11.8" text-anchor="middle" fill="#1a1a1a">HO</text><line x1="592.3" y1="335.7" x2="592.3" y2="341" stroke="#1a1a1a" stroke-width="1.3"/><text x="592.3" y="353.2" font-size="11.8" text-anchor="middle" fill="#1a1a1a">MCI</text><text transform="translate(442.9,218.2) rotate(-90)" x="0" y="0" font-size="11.6" text-anchor="middle" fill="#1a1a1a">rating (0-15 points)</text><path d="M502.6 86.5V77.8H594.8V86.5" fill="none" stroke="#424242" stroke-width="1.3"/><polygon points="545.20,69.15 546.14,71.11 548.29,71.40 546.72,72.89 547.11,75.03 545.20,74.00 543.29,75.03 543.68,72.89 542.11,71.40 544.26,71.11" fill="#111"/><polygon points="551.60,69.15 552.54,71.11 554.69,71.40 553.12,72.89 553.51,75.03 551.60,74.00 549.69,75.03 550.08,72.89 548.51,71.40 550.66,71.11" fill="#111"/><path d="M497.7 97.8V91.8H546.8V97.8" fill="none" stroke="#424242" stroke-width="1.3"/><polygon points="520.00,83.05 520.94,85.01 523.09,85.30 521.52,86.79 521.91,88.93 520.00,87.90 518.09,88.93 518.48,86.79 516.91,85.30 519.06,85.01" fill="#111"/><polygon points="526.40,83.05 527.34,85.01 529.49,85.30 527.92,86.79 528.31,88.93 526.40,87.90 524.49,88.93 524.88,86.79 523.31,85.30 525.46,85.01" fill="#111"/></g>
<circle cx="653.8" cy="111.5" r="1.9" fill="#8c2890"/>
<text x="665.8" y="114.5" font-size="8.8" fill="#1a1a1a">HY</text>
<circle cx="653.8" cy="126.4" r="1.9" fill="#5177d8"/>
<text x="665.8" y="129.4" font-size="8.8" fill="#1a1a1a">HO</text>
<circle cx="653.8" cy="141.3" r="1.9" fill="#17897f"/>
<text x="665.8" y="144.3" font-size="8.8" fill="#1a1a1a">MCI</text>
</svg>
</body></html>
